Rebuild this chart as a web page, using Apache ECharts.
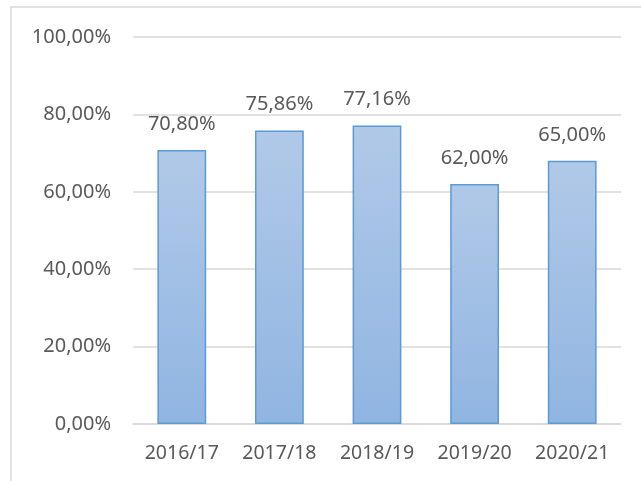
<!DOCTYPE html>
<html>
<head>
<meta charset="utf-8">
<script src="https://cdn.jsdelivr.net/npm/echarts@6/dist/echarts.min.js"></script>
<style>
  html, body { margin: 0; padding: 0; background: #fff; }
  #chart { width: 641px; height: 481px; }
</style>
</head>
<body>
<div id="chart"></div>
<script>
// categories and values
var years = ['2016/17', '2017/18', '2018/19', '2019/20', '2020/21'];
var shares = [70.8, 75.86, 77.16, 62, 68];
// the label texts as printed (last bar is drawn at ~68 but labelled 65,00%)
var shareLabels = ['70,80%', '75,86%', '77,16%', '62,00%', '65,00%'];
var yTicks = [0, 20, 40, 60, 80, 100];

var myChart = echarts.init(document.getElementById('chart'));

var fontName = '"Noto Sans", sans-serif';
var grey = '#595959';

function pct(v) {
  return v.toFixed(2).replace('.', ',') + '%';
}

option = {
  animation: false,
  // chart frame: only top and left edges show inside the picture
  graphic: [{
    type: 'rect',
    shape: { x: 11, y: 7, width: 700, height: 500 },
    style: { fill: 'none', stroke: '#d9d9d9', lineWidth: 1.5 },
    silent: true
  }],
  grid: { left: 133, right: 20, top: 37, bottom: 57 },
  xAxis: {
    type: 'category',
    data: years,
    axisLine: { show: true, lineStyle: { color: '#d9d9d9', width: 1.5 } },
    axisTick: { show: false },
    axisLabel: {
      color: grey, fontSize: 19.5, fontFamily: fontName, margin: 19,
      interval: 0, hideOverlap: false
    }
  },
  yAxis: {
    type: 'value',
    min: yTicks[0],
    max: yTicks[yTicks.length - 1],
    interval: 20,
    axisLine: { show: false },
    axisTick: { show: false },
    splitLine: { lineStyle: { color: '#d9d9d9', width: 1.5 } },
    axisLabel: {
      color: grey, fontSize: 20, fontFamily: fontName, margin: 22,
      formatter: function (v) { return pct(v); }
    }
  },
  series: [{
    type: 'bar',
    barWidth: '50%',
    data: shares,
    itemStyle: {
      color: new echarts.graphic.LinearGradient(0, 0, 0, 1, [
        { offset: 0, color: '#b1c9e8' },
        { offset: 1, color: '#90b5e1' }
      ]),
      borderColor: '#5b9bd5',
      borderWidth: 1.5
    },
    label: {
      show: true,
      position: 'top',
      distance: 16,
      color: grey,
      fontSize: 20,
      fontFamily: fontName,
      formatter: function (p) { return shareLabels[p.dataIndex]; }
    }
  }]
};

myChart.setOption(option);
</script>
</body>
</html>
